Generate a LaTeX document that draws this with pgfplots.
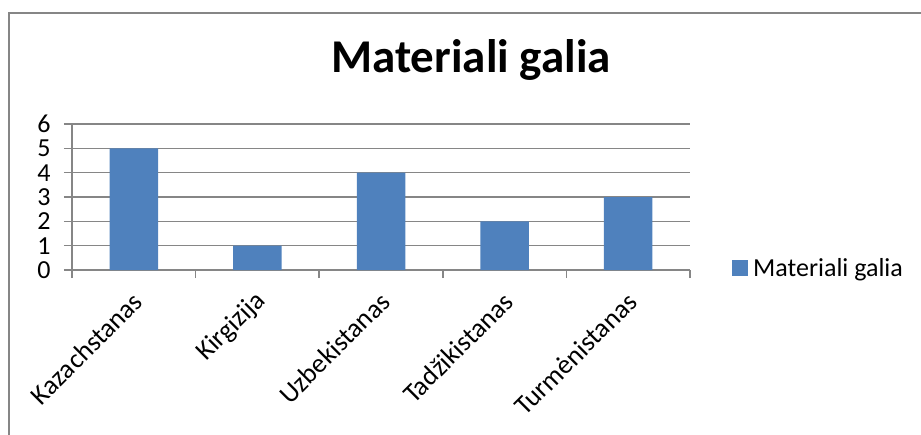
\documentclass[border=0pt]{standalone}
\usepackage{fontspec}
\setmainfont{Carlito}
\usepackage{pgfplots}
\pgfplotsset{compat=1.18}
\definecolor{barblue}{HTML}{4F81BD}
\definecolor{gridgray}{HTML}{868686}
\begin{document}
\begin{tikzpicture}[x=1pt,y=1pt]
\useasboundingbox (0,0) rectangle (921,-435);
\draw[gridgray, line width=2pt] (9,-436) -- (9,-13) -- (922,-13);
\begin{axis}[
  at={(72pt,-270pt)}, anchor=south west,
  scale only axis, width=618pt, height=146pt,
  xmin=-0.5, xmax=4.5, ymin=0, ymax=6,
  ytick={0,...,6},
  xtick={-0.5,0.5,...,4.5},
  xticklabels={Kazachstanas,Kirgizija,Uzbekistanas,Tadžikistanas,Turmėnistanas,{}},
  axis lines=left,
  axis line style={gridgray, line width=1.5pt, -},
  ymajorgrids,
  grid style={gridgray, line width=1.5pt},
  tick style={gridgray, line width=1.5pt},
  tick align=outside, major tick length=8pt,
  /pgf/number format/assume math mode=true,
  yticklabel style={font=\fontsize{26}{31}\selectfont, anchor=east, xshift=-10pt},
  xticklabel style={font=\fontsize{27}{32}\selectfont, xshift=66pt, yshift=-19pt, rotate=45, anchor=east, inner sep=0pt},
  title={Materiali galia},
  title style={at={(0.6456,1.3116)}, anchor=base, font=\bfseries\fontsize{47}{56}\selectfont},
  legend style={draw=none, fill=none, at={(1.068,0.014)}, anchor=west,
    font=\fontsize{26}{31}\selectfont, inner sep=0pt, cells={anchor=west}},
  legend image code/.code={\fill[barblue] (0pt,-8pt) rectangle (16pt,8pt);},
]
\addplot[ybar, bar width=48.5pt, fill=barblue, draw=none] coordinates {(0,5) (1,1) (2,4) (3,2) (4,3)};
\addlegendentry{\hspace{3pt}Materiali galia}
\end{axis}
\end{tikzpicture}
\end{document}
